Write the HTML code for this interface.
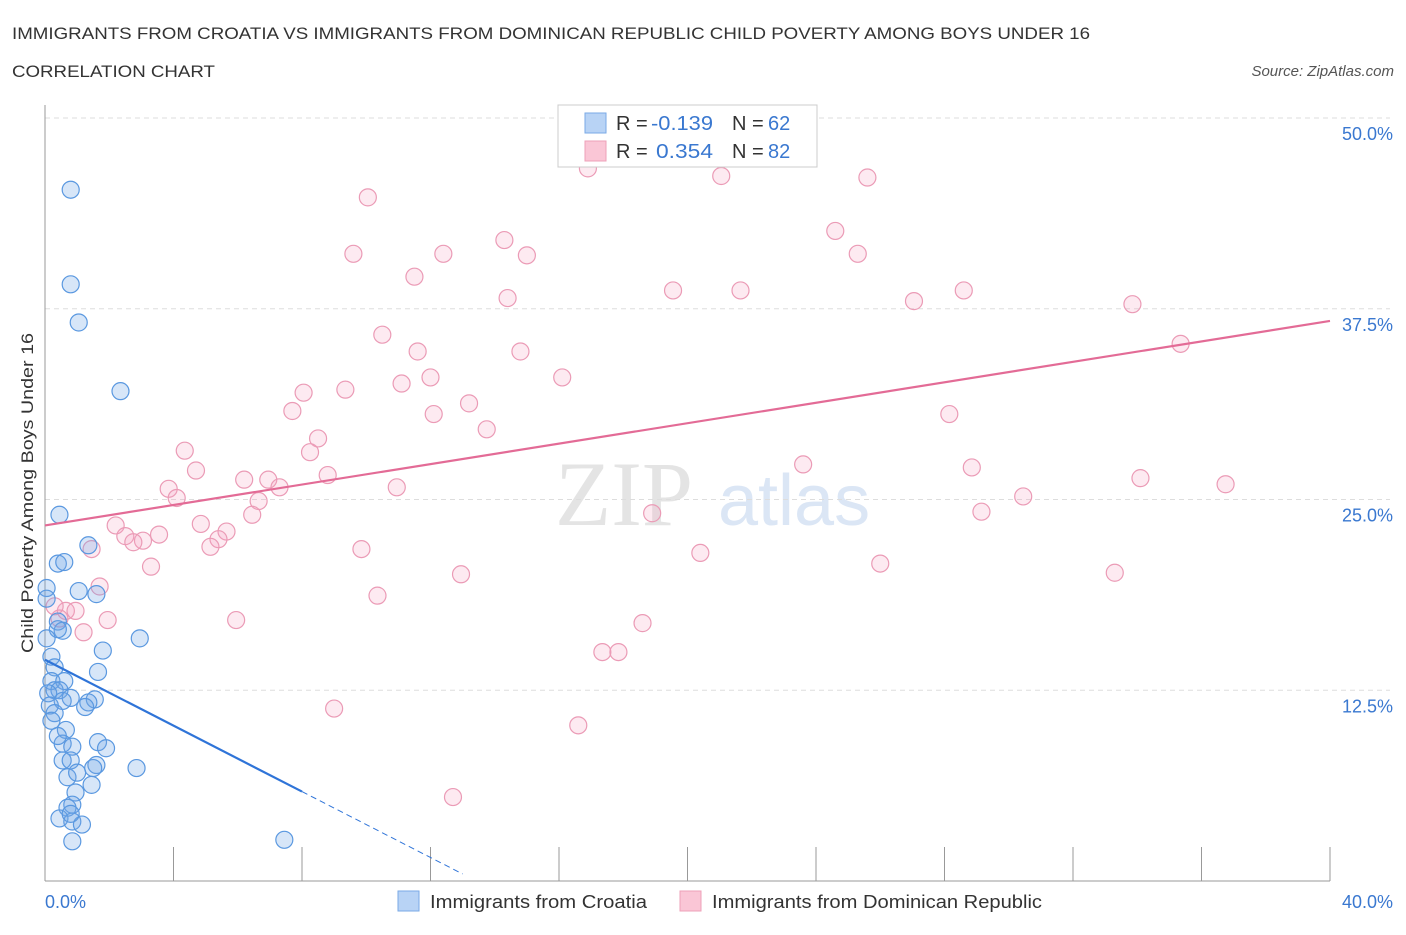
<!DOCTYPE html>
<html><head><meta charset="utf-8"><style>
body{margin:0;background:#fff;font-family:"Liberation Sans",sans-serif;}
</style></head><body>
<svg id="chart" width="1406" height="930" xmlns="http://www.w3.org/2000/svg" font-family="Liberation Sans, sans-serif">
<text x="12" y="39" font-size="17" fill="#333" textLength="1078" lengthAdjust="spacingAndGlyphs">IMMIGRANTS FROM CROATIA VS IMMIGRANTS FROM DOMINICAN REPUBLIC CHILD POVERTY AMONG BOYS UNDER 16</text>
<text x="12" y="77" font-size="17" fill="#333" textLength="203" lengthAdjust="spacingAndGlyphs">CORRELATION CHART</text>
<text x="1394" y="76" font-size="15" fill="#555" text-anchor="end" font-style="italic">Source: ZipAtlas.com</text>
<text x="555" y="525" font-size="92" fill="#e4e4e4" font-family="Liberation Serif, serif">ZIP</text>
<text x="718" y="525" font-size="72" fill="#dbe6f5">atlas</text>
<g id="grid"></g><g id="axes"></g><g id="pts"></g><g id="lines"></g>
<text transform="translate(33,493) rotate(-90)" font-size="17" fill="#333" text-anchor="middle" textLength="320" lengthAdjust="spacingAndGlyphs">Child Poverty Among Boys Under 16</text>
<g>
<rect x="558" y="105" width="259" height="62" fill="#fff" stroke="#ccc"/>
<rect x="585" y="113" width="21" height="20" fill="#b8d3f5" stroke="#7aaae6"/>
<rect x="585" y="141" width="21" height="20" fill="#fac6d6" stroke="#eea0b8"/>
<text x="616" y="130" font-size="20" fill="#333">R =</text>
<text x="651" y="130" font-size="20" fill="#3a78d0" textLength="62" lengthAdjust="spacingAndGlyphs">-0.139</text>
<text x="732" y="130" font-size="20" fill="#333">N =</text>
<text x="768" y="130" font-size="20" fill="#3a78d0">62</text>
<text x="616" y="158" font-size="20" fill="#333">R =</text>
<text x="656" y="158" font-size="20" fill="#3a78d0" textLength="57" lengthAdjust="spacingAndGlyphs">0.354</text>
<text x="732" y="158" font-size="20" fill="#333">N =</text>
<text x="768" y="158" font-size="20" fill="#3a78d0">82</text>
</g>
<g>
<rect x="398" y="891" width="21" height="20" fill="#b8d3f5" stroke="#7aaae6"/>
<text x="430" y="908" font-size="18" fill="#333" textLength="217" lengthAdjust="spacingAndGlyphs">Immigrants from Croatia</text>
<rect x="680" y="891" width="21" height="20" fill="#fac6d6" stroke="#eea0b8"/>
<text x="712" y="908" font-size="18" fill="#333" textLength="330" lengthAdjust="spacingAndGlyphs">Immigrants from Dominican Republic</text>
</g>
</svg>
<script>
const yTicks=[12.5,25,37.5,50];
const yTickLabels=["12.5%","25.0%","37.5%","50.0%"];
const xTickVals=[0,4,8,12,16,20,24,28,32,36,40];
const xEndLabels=["0.0%","40.0%"];
const blueX=[0.8,0.8,1.05,2.35,0.45,1.35,0.4,0.6,0.05,1.05,1.6,0.05,0.4,0.55,0.4,2.95,0.05,1.8,0.2,0.3,1.65,0.2,0.6,0.3,0.45,0.1,0.8,0.55,1.55,1.35,1.25,0.15,0.3,0.2,0.65,0.55,0.85,1.65,1.9,0.55,0.8,1.6,1.5,2.85,0.7,1.0,1.45,0.95,0.85,0.7,0.45,0.85,1.15,0.85,7.45,0.8,0.4];
const blueY=[45.3,39.1,36.6,32.1,24.0,22.0,20.8,20.9,19.2,19.0,18.8,18.5,17.0,16.4,16.5,15.9,15.9,15.1,14.7,14.0,13.7,13.1,13.1,12.5,12.5,12.3,12.0,11.8,11.9,11.7,11.4,11.5,11.0,10.5,9.9,9.0,8.8,9.1,8.7,7.9,7.9,7.6,7.4,7.4,6.8,7.1,6.3,5.8,5.0,4.8,4.1,3.9,3.7,2.6,2.7,4.4,9.5];
const pinkX=[16.9,10.05,21.05,25.6,14.3,15.0,9.6,12.4,24.6,25.3,11.5,14.4,19.55,21.65,27.05,28.6,33.85,35.35,10.5,11.6,14.8,16.1,12.0,11.1,8.05,9.35,13.2,7.7,12.1,13.75,8.5,28.15,4.35,8.25,4.7,8.8,6.95,6.2,7.3,10.95,3.85,4.1,23.6,28.85,34.1,36.75,30.45,6.65,6.45,18.9,29.15,2.2,4.85,5.65,2.5,3.55,3.05,2.75,5.4,5.15,1.45,9.85,20.4,3.3,26.0,12.95,33.3,1.7,10.35,0.65,0.95,0.45,1.95,5.95,18.6,1.2,17.35,17.85,9.0,16.6,12.7,0.3];
const pinkY=[46.7,44.8,46.2,46.1,42.0,41.0,41.1,41.1,42.6,41.1,39.6,38.2,38.7,38.7,38.0,38.7,37.8,35.2,35.8,34.7,34.7,33.0,33.0,32.6,32.0,32.2,31.3,30.8,30.6,29.6,29.0,30.6,28.2,28.1,26.9,26.6,26.3,26.3,25.8,25.8,25.7,25.1,27.3,27.1,26.4,26.0,25.2,24.9,24.0,24.1,24.2,23.3,23.4,22.9,22.6,22.7,22.3,22.2,22.4,21.9,21.75,21.75,21.5,20.6,20.8,20.1,20.2,19.3,18.7,17.7,17.7,17.2,17.1,17.1,16.9,16.3,15.0,15.0,11.3,10.2,5.5,18.0];
const pinkTrend=[23.3,36.7];
const blueTrend=[14.5,-1.08];
const blueSolidEnd=8, blueDashEnd=13.0;

const X0=45,X1=1330,Y0=881;
const sx=v=>X0+(X1-X0)*v/40;
const sy=v=>Y0-v*(881-118)/50;
const NS="http://www.w3.org/2000/svg";
function mk(tag,attrs,parent){const e=document.createElementNS(NS,tag);for(const k in attrs)e.setAttribute(k,attrs[k]);parent.appendChild(e);return e;}
const grid=document.getElementById('grid'),axes=document.getElementById('axes'),pts=document.getElementById('pts'),lines=document.getElementById('lines');
yTicks.forEach((t,i)=>{
 const l=mk('line',{x1:X0,x2:1390,y1:sy(t),y2:sy(t),stroke:'#ddd','stroke-dasharray':'5,4'},grid);
 
 
 const tx=mk('text',{x:1393,y:sy(t)+22,'font-size':18,fill:'#3a78d0','text-anchor':'end'},axes);
 tx.textContent=yTickLabels[i];
 
 
});
let a=mk('line',{x1:X0,x2:X0,y1:105,y2:Y0,stroke:'#999'},axes);


a=mk('line',{x1:X0,x2:X1,y1:Y0,y2:Y0,stroke:'#999'},axes);


xTickVals.forEach(t=>{
 const l=mk('line',{x1:sx(t),x2:sx(t),y1:Y0,y2:Y0-34,stroke:'#999'},axes);
 
 
});
[0,1].forEach(i=>{
 const tx=mk('text',{x:i?1393:45,y:908,'font-size':18,fill:'#3a78d0','text-anchor':i?'end':'start'},axes);
 tx.textContent=xEndLabels[i];
 
 
});
pinkX.forEach((v,i)=>{
 const c=mk('circle',{cx:sx(v),cy:sy(pinkY[i]),r:8.5,fill:'rgba(245,160,190,0.22)',stroke:'#eb9bb6','stroke-width':1.2},pts);
 
 
});
blueX.forEach((v,i)=>{
 const c=mk('circle',{cx:sx(v),cy:sy(blueY[i]),r:8.5,fill:'rgba(110,165,230,0.28)',stroke:'#5a98e0','stroke-width':1.2},pts);
 
 
});
let t=mk('line',{x1:sx(0),y1:sy(pinkTrend[0]),x2:sx(40),y2:sy(pinkTrend[1]),stroke:'#e36b96','stroke-width':2.2},lines);


const bY=x=>blueTrend[0]+blueTrend[1]*x;
t=mk('line',{x1:sx(0),y1:sy(bY(0)),x2:sx(blueSolidEnd),y2:sy(bY(blueSolidEnd)),stroke:'#2f74d8','stroke-width':2.2},lines);


t=mk('line',{x1:sx(blueSolidEnd),y1:sy(bY(blueSolidEnd)),x2:sx(blueDashEnd),y2:sy(bY(blueDashEnd)),stroke:'#2f74d8','stroke-width':1,'stroke-dasharray':'6,4'},lines);


</script>
</body></html>
